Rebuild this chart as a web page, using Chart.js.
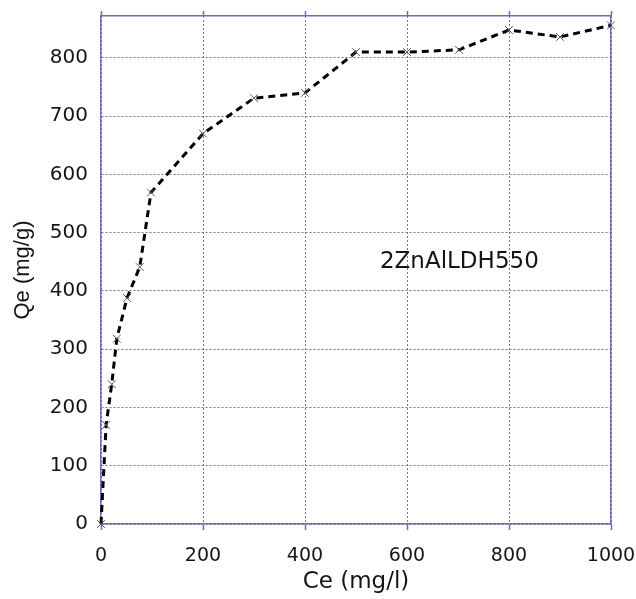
<!DOCTYPE html>
<html>
<head>
<meta charset="utf-8">
<script src="https://cdn.jsdelivr.net/npm/chart.js@4.4.1/dist/chart.umd.min.js"></script>
<style>
  html, body { margin: 0; padding: 0; background: #fff; }
  #wrap { width: 636px; height: 599px; }
</style>
</head>
<body>
<div id="wrap"><canvas id="chart" width="636" height="599"></canvas></div>
<script>
  // Ce (mg/l) vs Qe (mg/g)
  const ceValues = [0, 10, 21, 31, 51, 76, 98, 200, 300, 400, 500, 600, 702, 800, 900, 1000];
  const qeValues = [0, 170, 240, 318, 388, 441, 569, 670, 731, 740, 810, 810, 814, 848, 836, 856];
  const xTicks = [0, 200, 400, 600, 800, 1000];
  const yTicks = [0, 100, 200, 300, 400, 500, 600, 700, 800];
  const sampleLabel = "2ZnAlLDH550";

  const BLUE = "#6f6fb6";
  const GRID = "#777";
  const INK = "#151515";
  const FONT = "'DejaVu Sans', sans-serif";

  const points = ceValues.map(function (x, i) { return { x: x, y: qeValues[i] }; });

  function keepTicks(list) {
    return function (scale) {
      scale.ticks = list.map(function (v) { return { value: v }; });
    };
  }

  // fixed box sizes so the plot area lands where the picture has it
  function fixBox(w, h) {
    return function (s) {
      if (w !== null) s.width = w;
      if (h !== null) s.height = h;
      s.paddingLeft = 0; s.paddingRight = 0;
      s.paddingTop = 0; s.paddingBottom = 0;
    };
  }

  function plain(v) { return String(v); }

  // sample name written inside the plot, placed in data units
  const labelPlugin = {
    id: "sampleLabel",
    afterDatasetsDraw: function (chart) {
      const ctx = chart.ctx;
      const px = chart.scales.x.getPixelForValue(547);
      const py = chart.scales.y.getPixelForValue(449);
      ctx.save();
      ctx.font = "23px " + FONT;
      ctx.fillStyle = INK;
      ctx.textAlign = "left";
      ctx.textBaseline = "middle";
      ctx.fillText(sampleLabel, px, py);
      ctx.restore();
    }
  };

  new Chart(document.getElementById("chart").getContext("2d"), {
    type: "line",
    data: {
      datasets: [{
        data: points,
        borderColor: "#000",
        borderWidth: 3,
        borderDash: [7, 5],
        tension: 0,
        fill: false,
        clip: false,
        pointStyle: "crossRot",
        pointRadius: 5.5,
        pointBorderColor: "#555",
        pointBorderWidth: 1,
        pointBackgroundColor: "#555"
      }]
    },
    options: {
      responsive: false,
      animation: false,
      devicePixelRatio: 1,
      layout: { padding: 0 },
      plugins: { legend: { display: false }, tooltip: { enabled: false } },
      scales: {
        x: {
          type: "linear",
          position: "bottom",
          min: 0,
          max: 1000,
          afterBuildTicks: keepTicks(xTicks),
          afterFit: fixBox(null, 75),
          grid: {
            color: GRID,
            lineWidth: 1,
            drawTicks: true,
            tickLength: 6,
            tickColor: BLUE,
            tickWidth: 1.5,
            tickBorderDash: []
          },
          border: { display: true, color: BLUE, width: 1.5, dash: [2, 2] },
          ticks: { color: INK, font: { family: FONT, size: 19 }, padding: 15, maxRotation: 0, callback: plain },
          title: {
            display: true,
            text: "Ce (mg/l)",
            color: INK,
            font: { family: FONT, size: 23 },
            padding: { top: 0, bottom: 3 }
          }
        },
        xTop: {
          type: "linear",
          position: "top",
          min: 0,
          max: 1000,
          afterBuildTicks: keepTicks(xTicks),
          afterFit: fixBox(null, 16),
          grid: {
            drawOnChartArea: false,
            drawTicks: true,
            tickLength: 5,
            tickColor: BLUE,
            tickWidth: 1.5,
            tickBorderDash: []
          },
          border: { display: true, color: BLUE, width: 1.5 },
          ticks: { display: false }
        },
        y: {
          type: "linear",
          position: "left",
          min: 0,
          max: 872,
          afterBuildTicks: keepTicks(yTicks),
          afterFit: fixBox(101, null),
          grid: { color: GRID, lineWidth: 1, drawTicks: false },
          border: { display: true, color: BLUE, width: 1.5, dash: [2, 2] },
          ticks: { color: INK, font: { family: FONT, size: 20 }, padding: 13, callback: plain },
          title: {
            display: true,
            text: "Qe (mg/g)",
            color: INK,
            font: { family: "'Liberation Sans', Arial, sans-serif", size: 22 },
            padding: { top: 10, bottom: 0 }
          }
        },
        yRight: {
          type: "linear",
          position: "right",
          min: 0,
          max: 872,
          afterFit: fixBox(25, null),
          grid: { drawOnChartArea: false, drawTicks: false },
          border: { display: true, color: BLUE, width: 1.5 },
          ticks: { display: false }
        }
      }
    },
    plugins: [labelPlugin]
  });
</script>
</body>
</html>
